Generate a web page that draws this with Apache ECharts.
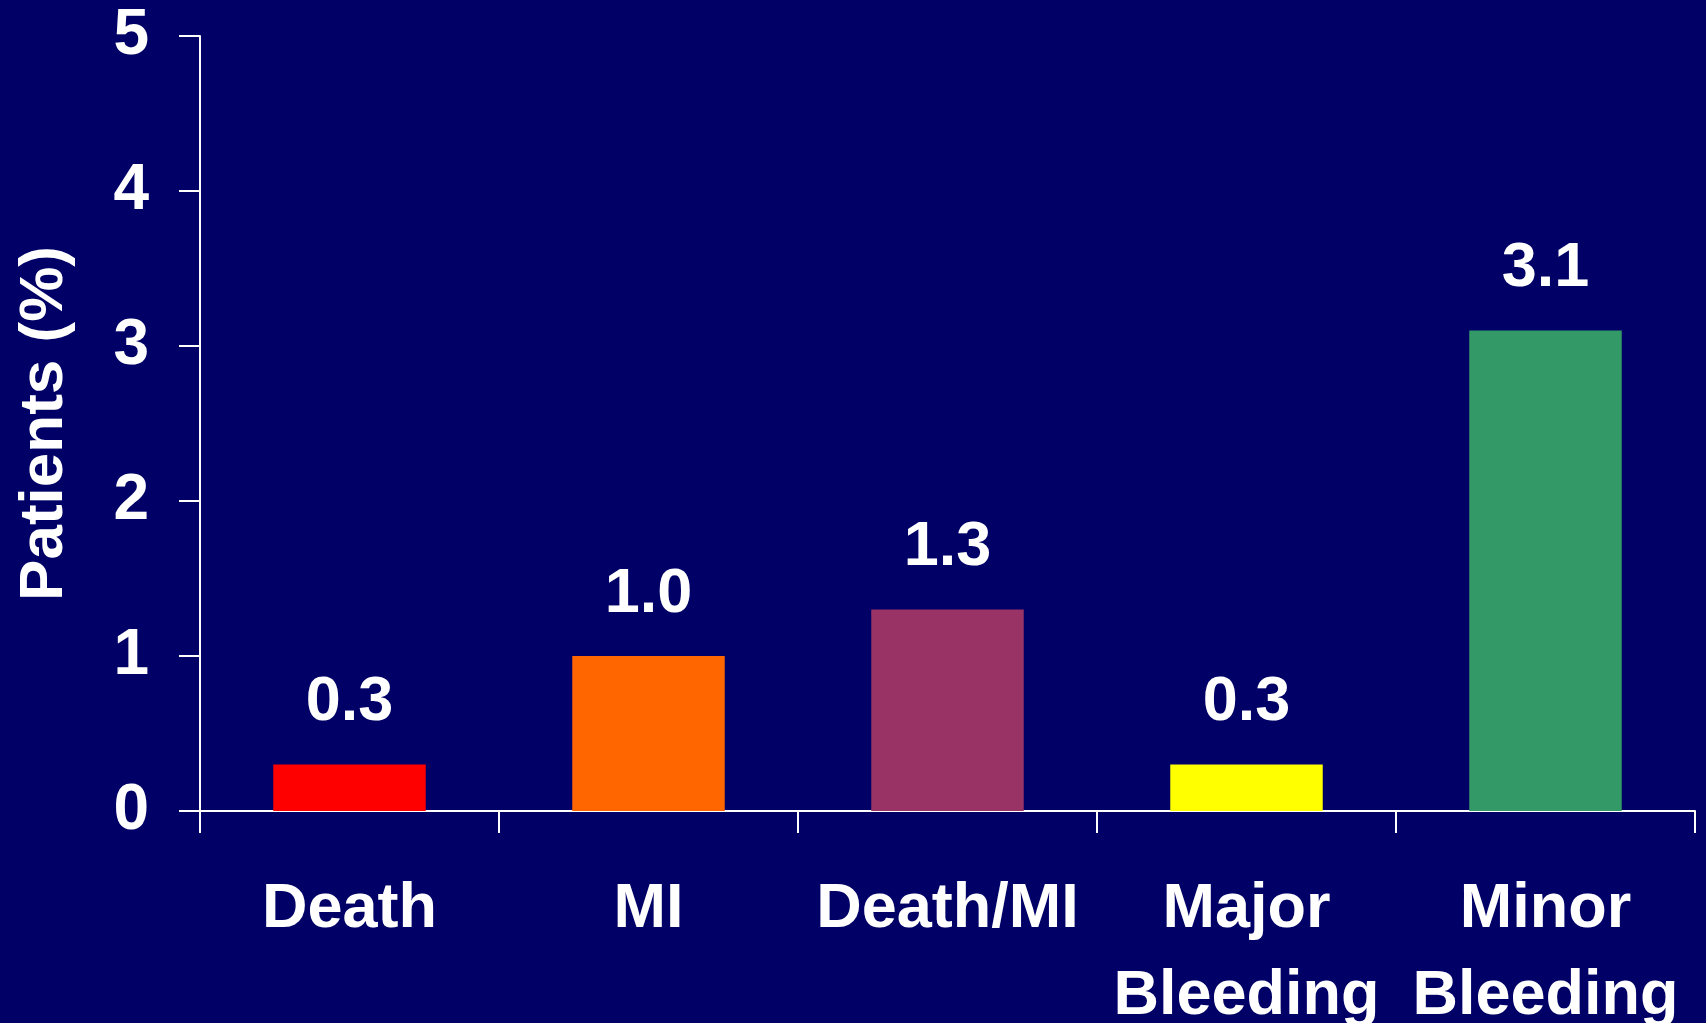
<!DOCTYPE html>
<html>
<head>
<meta charset="utf-8">
<script src="https://cdn.jsdelivr.net/npm/echarts@6/dist/echarts.min.js"></script>
<style>
html,body{margin:0;padding:0;background:#000066;overflow:hidden;}
#c{width:1706px;height:1023px;}
</style>
</head>
<body>
<div id="c"></div>
<script>
const categories = ['Death', 'MI', 'Death/MI', 'Major\nBleeding', 'Minor\nBleeding'];
const values = [0.3, 1.0, 1.3, 0.3, 3.1];
const barColors = ['#FF0000', '#FF6600', '#993366', '#FFFF00', '#339966'];
const yTicks = [0, 1, 2, 3, 4, 5];

const FONT = '"Liberation Sans", Arial, sans-serif';
const chart = echarts.init(document.getElementById('c'));
chart.setOption({
  backgroundColor: '#000066',
  animation: false,
  grid: { left: 200, right: 11, top: 36, bottom: 212, containLabel: false, outerBoundsMode: 'none' },
  xAxis: {
    type: 'category',
    data: categories,
    boundaryGap: true,
    axisLine: { show: true, lineStyle: { color: '#ffffff', width: 2 } },
    axisTick: { show: true, length: 22, lineStyle: { color: '#ffffff', width: 2 } },
    axisLabel: {
      color: '#ffffff', fontFamily: FONT, fontWeight: 'bold', fontSize: 63,
      lineHeight: 87, margin: 55, interval: 0
    },
    splitLine: { show: false }
  },
  yAxis: {
    type: 'value',
    min: yTicks[0],
    max: yTicks[yTicks.length - 1],
    interval: 1,
    name: 'Patients (%)',
    nameLocation: 'middle',
    nameGap: 124,
    nameMoveOverlap: false,
    nameTextStyle: { color: '#ffffff', fontFamily: FONT, fontWeight: 'bold', fontSize: 62 },
    axisLine: { show: true, lineStyle: { color: '#ffffff', width: 2 } },
    axisTick: { show: true, length: 21, lineStyle: { color: '#ffffff', width: 2 } },
    axisLabel: { color: '#ffffff', fontFamily: FONT, fontWeight: 'bold', fontSize: 64, margin: 51 },
    splitLine: { show: false }
  },
  series: [{
    type: 'bar',
    data: values.map((v, i) => ({ value: v, itemStyle: { color: barColors[i] } })),
    barWidth: '51%',
    label: {
      show: true, position: 'top', distance: 30,
      color: '#ffffff', fontFamily: FONT, fontWeight: 'bold', fontSize: 63,
      formatter: p => p.value.toFixed(1)
    }
  }]
});
</script>
</body>
</html>
